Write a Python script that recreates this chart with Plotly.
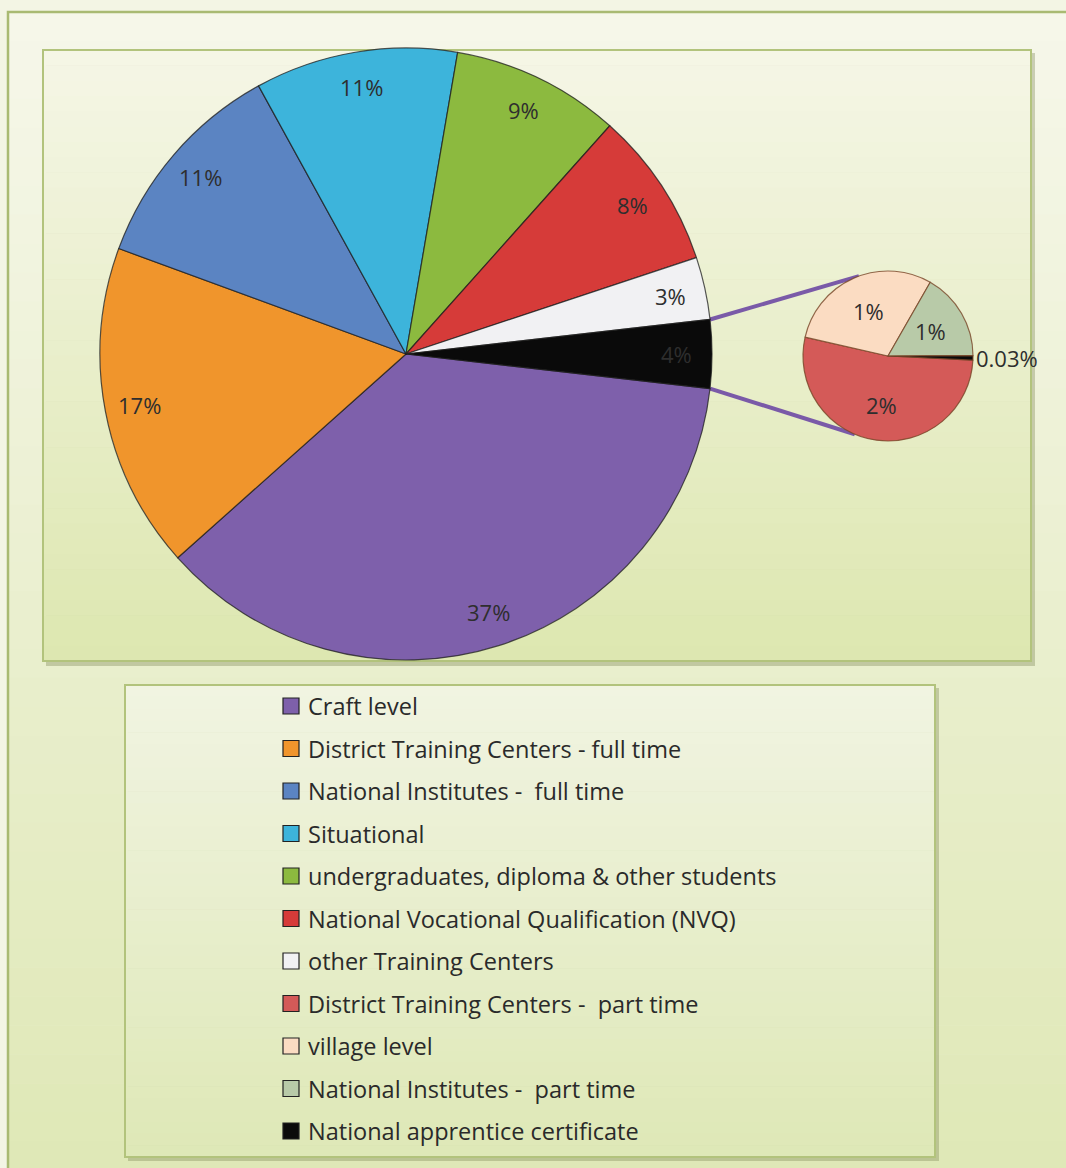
import math
import plotly.graph_objects as go

W, H = 1066, 1168

# ---- data ----
main_labels = ["Craft level", "District Training Centers - full time", "National Institutes -  full time",
               "Situational", "undergraduates, diploma & other students",
               "National Vocational Qualification (NVQ)", "other Training Centers"]
main_values = [36.6, 17.2, 11.4, 10.7, 8.9, 8.3, 3.3]
main_colors = ["#7e60ab", "#f0952c", "#5b84c2", "#3db4db", "#8cba3f", "#d63b39", "#f1f1f3"]

sec_labels = ["District Training Centers -  part time", "village level",
              "National Institutes -  part time", "National apprentice certificate"]
sec_values = [1.9, 1.07, 0.6, 0.03]
sec_colors = ["#d45a58", "#fbdcc2", "#b8caa8", "#0b0b0b"]
other_color = "#0a0a0a"

legend_labels = main_labels + sec_labels
legend_colors = main_colors + sec_colors

FONT = "Open Sans"

# pie geometry (paper domains)
main_dom_x = [100 / W, 712 / W]
main_dom_y = [1 - 660 / H, 1 - 48 / H]
sec_dom_x = [803 / W, 973 / W]
sec_dom_y = [1 - 441 / H, 1 - 271 / H]
sec_start = -2.8  # math angle (deg) where the secondary pie's first slice begins

other_value = sum(sec_values)
all_main_values = main_values + [other_value]
total = sum(all_main_values)
other_share = other_value / total * 360.0
half = other_share / 2

fig = go.Figure()

# ---- backgrounds (gradient bands) ----
def hexrgb(h):
    h = h.lstrip("#")
    return tuple(int(h[i:i + 2], 16) for i in (0, 2, 4))

def mix(c1, c2, t):
    a, b = hexrgb(c1), hexrgb(c2)
    return "rgb(%d,%d,%d)" % tuple(round(a[i] + (b[i] - a[i]) * t) for i in range(3))

shapes = []
annotations = []

def grad_box(x0, y0, x1, y1, ctop, cbot, border, bw, n=40):
    for i in range(n):
        ya = y0 + (y1 - y0) * i / n
        yb = y0 + (y1 - y0) * (i + 1) / n + 0.5
        shapes.append(dict(type="rect", xref="paper", yref="paper", layer="below",
                           x0=x0 / W, x1=x1 / W, y0=1 - ya / H, y1=1 - min(yb, y1) / H,
                           fillcolor=mix(ctop, cbot, (i + 0.5) / n), line=dict(width=0)))
    shapes.append(dict(type="rect", xref="paper", yref="paper", layer="below",
                       x0=x0 / W, x1=x1 / W, y0=1 - y0 / H, y1=1 - y1 / H,
                       line=dict(color=border, width=bw)))

grad_box(8, 12, 1070, 1170, "#f6f7ea", "#dfe8b6", "#a9ba72", 2.5)
shapes.append(dict(type="rect", xref="paper", yref="paper", layer="below",
                   x0=46 / W, x1=1035 / W, y0=1 - 53 / H, y1=1 - 666 / H,
                   fillcolor="rgba(120,130,80,0.35)", line=dict(width=0)))
grad_box(43, 50, 1031, 661, "#f5f6e6", "#dde7b0", "#b2c37c", 2)
shapes.append(dict(type="rect", xref="paper", yref="paper", layer="below",
                   x0=128 / W, x1=939 / W, y0=1 - 688 / H, y1=1 - 1161 / H,
                   fillcolor="rgba(120,130,80,0.35)", line=dict(width=0)))
grad_box(125, 685, 935, 1157, "#f1f4e2", "#dee8b6", "#b2c37c", 2)

# ---- geometry helpers ----
def pie_geom(dx, dy):
    wpx = (dx[1] - dx[0]) * W
    hpx = (dy[1] - dy[0]) * H
    cx = (dx[0] + dx[1]) / 2 * W
    cy = (1 - (dy[0] + dy[1]) / 2) * H
    return cx, cy, min(wpx, hpx) / 2

def pt(cx, cy, r, ang):
    return cx + r * math.cos(math.radians(ang)), cy - r * math.sin(math.radians(ang))

mcx, mcy, mr = pie_geom(main_dom_x, main_dom_y)
scx, scy, sr = pie_geom(sec_dom_x, sec_dom_y)

# connector lines
p_top = pt(mcx, mcy, mr, half)
p_bot = pt(mcx, mcy, mr, -half)
s_top = pt(scx, scy, sr, 110)
s_bot = pt(scx, scy, sr, -113)
for a, b in [(p_top, s_top), (p_bot, s_bot)]:
    shapes.append(dict(type="line", xref="paper", yref="paper", layer="below",
                       x0=a[0] / W, y0=1 - a[1] / H, x1=b[0] / W, y1=1 - b[1] / H,
                       line=dict(color="#7a5aa8", width=4)))

def fmt(v):
    return ("%.0f%%" % v) if v >= 0.5 else ("%.2f%%" % v)

# ---- pies ----
fig.add_trace(go.Pie(
    labels=main_labels + ["Other"], values=all_main_values, sort=False,
    direction="clockwise", rotation=90 + half,
    marker=dict(colors=main_colors + [other_color], line=dict(color="rgba(30,30,30,0.75)", width=1.2)),
    textinfo="none",
    domain=dict(x=main_dom_x, y=main_dom_y), showlegend=False, hoverinfo="label+percent",
))
fig.add_trace(go.Pie(
    labels=sec_labels, values=sec_values, sort=False,
    direction="clockwise", rotation=90 - sec_start,
    marker=dict(colors=sec_colors, line=dict(color="rgba(120,70,40,0.8)", width=1.2)),
    textinfo="none",
    domain=dict(x=sec_dom_x, y=sec_dom_y), showlegend=False, hoverinfo="label+value",
))

LBL = dict(family=FONT, size=22, color="#2e2e2e")

# data labels placed along each slice's mid-angle
ang = -half
for v in all_main_values:
    span = v / total * 360.0
    mid = ang - span / 2
    ang -= span
    if v == other_value:
        mid = 0.0
    x, y = pt(mcx, mcy, mr * 0.885, mid)
    annotations.append(dict(xref="paper", yref="paper", x=x / W, y=1 - y / H, text=fmt(v / total * 100),
                            showarrow=False, xanchor="center", yanchor="middle", font=LBL))
ang = sec_start
stot = sum(sec_values)
for i, v in enumerate(sec_values):
    span = v / stot * 360.0
    mid = ang - span / 2
    ang -= span
    if i == len(sec_values) - 1:
        x, y = pt(scx, scy, sr + 1, mid)
        annotations.append(dict(xref="paper", yref="paper", x=x / W, y=1 - y / H, text=fmt(v),
                                showarrow=False, xanchor="left", yanchor="middle", font=LBL))
    else:
        x, y = pt(scx, scy, sr * 0.58, mid)
        annotations.append(dict(xref="paper", yref="paper", x=x / W, y=1 - y / H, text=fmt(v),
                                showarrow=False, xanchor="center", yanchor="middle", font=LBL))

# ---- manual legend ----
row0, step = 706, 42.5
for i, (lab, col) in enumerate(zip(legend_labels, legend_colors)):
    yc = row0 + i * step
    shapes.append(dict(type="rect", xref="paper", yref="paper",
                       x0=283 / W, x1=299 / W, y0=1 - (yc - 8) / H, y1=1 - (yc + 8) / H,
                       fillcolor=col, line=dict(color="#222222", width=1.2)))
    annotations.append(dict(xref="paper", yref="paper", x=306 / W, y=1 - yc / H,
                            xanchor="left", yanchor="middle", text=lab, showarrow=False,
                            font=dict(family=FONT, size=23.5, color="#2a2a2a")))

fig.update_layout(
    width=W, height=H, margin=dict(l=0, r=0, t=0, b=0),
    paper_bgcolor="#f3f5e4", plot_bgcolor="rgba(0,0,0,0)",
    shapes=shapes, annotations=annotations, showlegend=False,
)
fig.write_html("out.html")
